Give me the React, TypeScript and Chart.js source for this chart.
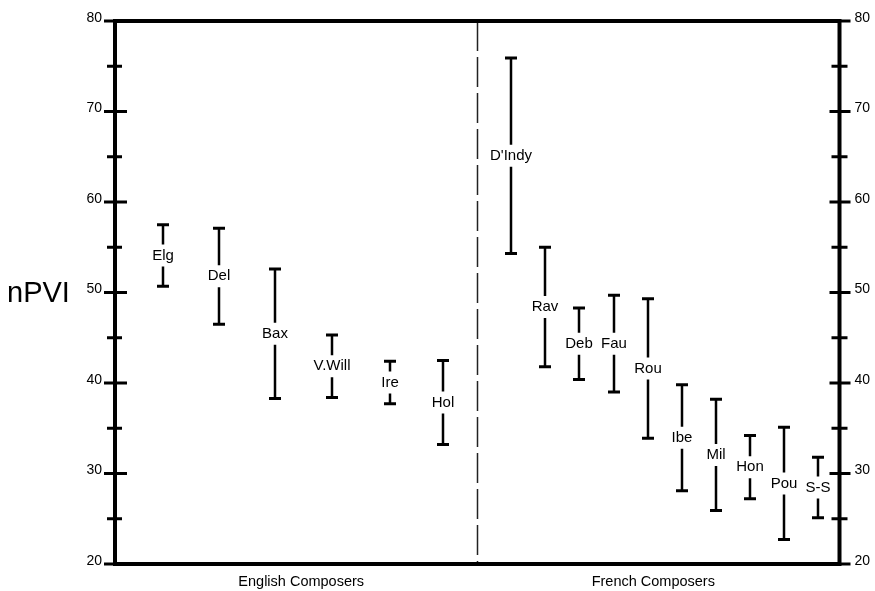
import React, { useEffect, useRef } from "react";
import { Chart, registerables } from "chart.js";

Chart.register(...registerables);

// ---- data ----
const composers = ["Elg", "Del", "Bax", "V.Will", "Ire", "Hol", "D'Indy", "Rav", "Deb", "Fau", "Rou", "Ibe", "Mil", "Hon", "Pou", "S-S"];
const upperValues = [57.5, 57.1, 52.6, 45.3, 42.4, 42.5, 75.9, 55.0, 48.3, 49.7, 49.3, 39.8, 38.2, 34.2, 35.1, 31.8];
const lowerValues = [50.7, 46.5, 38.3, 38.4, 37.7, 33.2, 54.3, 41.8, 40.4, 39.0, 33.9, 28.1, 25.9, 27.2, 22.7, 25.1];
const xPositions = [6.6, 14.4, 22.1, 29.9, 37.9, 45.3, 54.6, 59.4, 64.1, 68.9, 73.5, 78.2, 82.9, 87.6, 92.3, 97.0];
const groupLabels = ["English Composers", "French Composers"];
const groupLabelX = [25.7, 74.3];
const dividerX = 50;
const majorTicks = [20, 30, 40, 50, 60, 70, 80];
const minorTicks = [25, 35, 45, 55, 65, 75];
const yAxisTitle = "nPVI";

const FONT = '"Liberation Sans", Arial, Helvetica, sans-serif';

const drawPlugin = {
  id: "npviDraw",
  afterDatasetsDraw(chart: any) {
    const { ctx, chartArea } = chart;
    const xs = chart.scales.x;
    const ys = chart.scales.y;
    const L = chartArea.left;
    const R = chartArea.right;
    const T = chartArea.top;
    const B = chartArea.bottom;
    ctx.save();

    // divider
    const dx = Math.round(xs.getPixelForValue(dividerX)) + 0.5;
    ctx.strokeStyle = "#222";
    ctx.lineWidth = 1.5;
    ctx.setLineDash([30, 6]);
    ctx.beginPath();
    ctx.moveTo(dx, T);
    ctx.lineTo(dx, B);
    ctx.stroke();
    ctx.setLineDash([]);

    // frame
    ctx.strokeStyle = "#000";
    ctx.lineWidth = 4;
    ctx.strokeRect(L, T, R - L, B - T);

    // ticks
    ctx.lineWidth = 3;
    ctx.lineCap = "butt";
    for (const v of majorTicks) {
      const py = ys.getPixelForValue(v);
      ctx.beginPath();
      ctx.moveTo(L - 11, py);
      ctx.lineTo(L + 12, py);
      ctx.moveTo(R - 10, py);
      ctx.lineTo(R + 11, py);
      ctx.stroke();
    }
    for (const v of minorTicks) {
      const py = ys.getPixelForValue(v);
      ctx.beginPath();
      ctx.moveTo(L - 8, py);
      ctx.lineTo(L + 7, py);
      ctx.moveTo(R - 8, py);
      ctx.lineTo(R + 8, py);
      ctx.stroke();
    }

    // tick labels
    ctx.fillStyle = "#000";
    ctx.font = `14px ${FONT}`;
    ctx.textBaseline = "middle";
    for (const v of majorTicks) {
      const py = ys.getPixelForValue(v) - 3;
      ctx.textAlign = "right";
      ctx.fillText(String(v), L - 13, py);
      ctx.textAlign = "left";
      ctx.fillText(String(v), R + 15, py);
    }

    // y title
    ctx.font = `29px ${FONT}`;
    ctx.textAlign = "left";
    ctx.fillText(yAxisTitle, 7, ys.getPixelForValue(50) + 1);

    // group labels
    ctx.font = `14.5px ${FONT}`;
    ctx.textAlign = "center";
    groupLabels.forEach((t, i) => {
      ctx.fillText(t, xs.getPixelForValue(groupLabelX[i]), B + 18);
    });

    // error bars
    ctx.font = `15px ${FONT}`;
    composers.forEach((name, i) => {
      const px = Math.round(xs.getPixelForValue(xPositions[i]));
      const top = ys.getPixelForValue(upperValues[i]);
      const bot = ys.getPixelForValue(lowerValues[i]);
      const mid = ys.getPixelForValue((upperValues[i] + lowerValues[i]) / 2);
      const gap = 11;
      ctx.lineWidth = 2.5;
      ctx.beginPath();
      ctx.moveTo(px, top);
      ctx.lineTo(px, mid - gap);
      ctx.moveTo(px, mid + gap);
      ctx.lineTo(px, bot);
      ctx.stroke();
      ctx.lineWidth = 3;
      ctx.beginPath();
      ctx.moveTo(px - 6, top);
      ctx.lineTo(px + 6, top);
      ctx.moveTo(px - 6, bot);
      ctx.lineTo(px + 6, bot);
      ctx.stroke();
      ctx.textAlign = "center";
      ctx.fillText(name, px, mid);
    });

    ctx.restore();
  },
};

export default function App() {
  const ref = useRef<HTMLCanvasElement | null>(null);
  useEffect(() => {
    if (!ref.current) return;
    const chart = new Chart(ref.current, {
      type: "scatter",
      data: {
        datasets: [
          {
            label: "nPVI",
            data: composers.map((_, i) => ({ x: xPositions[i], y: (upperValues[i] + lowerValues[i]) / 2 })),
            pointRadius: 0,
            pointHoverRadius: 0,
          },
        ],
      },
      options: {
        animation: false,
        responsive: false,
        maintainAspectRatio: false,
        layout: { padding: { left: 115, right: 35.5, top: 21, bottom: 27 } },
        plugins: { legend: { display: false }, tooltip: { enabled: false } },
        scales: {
          x: { type: "linear", min: 0, max: 100, display: false },
          y: { type: "linear", min: 20, max: 80, display: false },
        },
      },
      plugins: [drawPlugin],
    });
    return () => chart.destroy();
  }, []);
  return (
    <div style={{ position: "fixed", left: 0, top: 0, width: 875, height: 591, background: "#fff" }}>
      <canvas ref={ref} width={875} height={591} style={{ width: 875, height: 591, display: "block" }} />
    </div>
  );
}
